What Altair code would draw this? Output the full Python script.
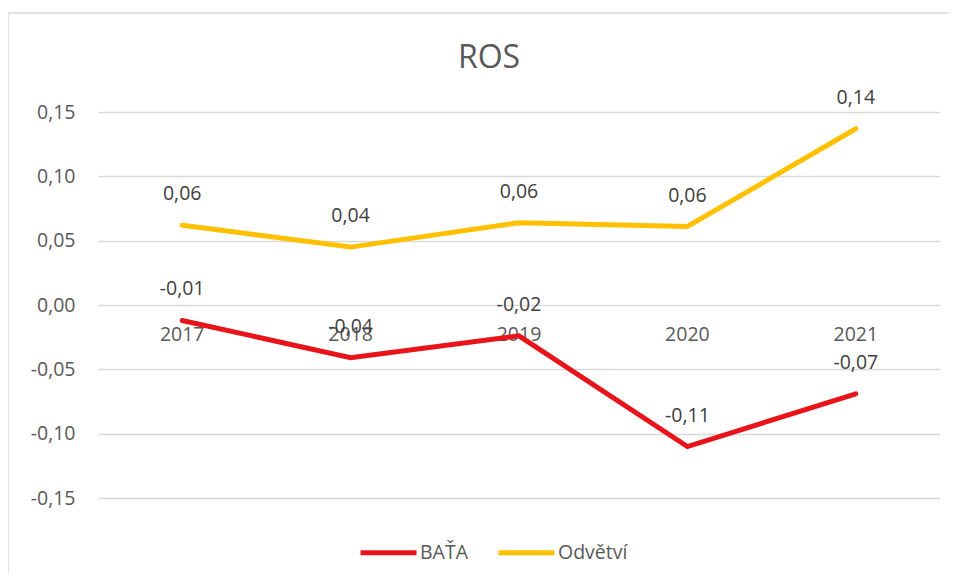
import altair as alt
import pandas as pd

years = ["2017", "2018", "2019", "2020", "2021"]
bata = [-0.012, -0.041, -0.024, -0.110, -0.069]
odvetvi = [0.062, 0.045, 0.064, 0.061, 0.137]
series_names = ["BAŤA", "Odvětví"]
series_colors = ["#E8141A", "#FFC000"]
y_ticks = [-0.15, -0.10, -0.05, 0.0, 0.05, 0.10, 0.15]

rows = []
for name, vals in zip(series_names, [bata, odvetvi]):
    for yr, v in zip(years, vals):
        rows.append({"year": yr, "value": v, "series": name})
df = pd.DataFrame(rows)
years_df = pd.DataFrame({"year": years})

FONT = "Open Sans"
TXT = "#595959"
FS = 19.5

x = alt.X("year:N", sort=years, axis=None,
          scale=alt.Scale(type="point", padding=0.5))
y_scale = alt.Scale(domain=[-0.15, 0.15], nice=False, zero=False)

base = alt.Chart(df)

lines = base.mark_line(strokeWidth=5, strokeCap="round", strokeJoin="miter").encode(
    x=x,
    y=alt.Y("value:Q", scale=y_scale, title=None,
            axis=alt.Axis(values=y_ticks, format=".2f", grid=True, domain=False,
                          ticks=False, labelPadding=23, labelFontSize=FS,
                          labelColor=TXT, labelFont=FONT, gridColor="#D9D9D9",
                          gridWidth=1.5)),
    color=alt.Color("series:N", sort=series_names,
                    scale=alt.Scale(domain=series_names, range=series_colors),
                    legend=alt.Legend(title=None, orient="none", direction="horizontal",
                                      legendX=260, legendY=410, symbolType="stroke",
                                      symbolSize=3136, symbolStrokeWidth=5,
                                      labelFontSize=FS, labelColor=TXT, labelFont=FONT,
                                      labelOffset=1, columnPadding=20, padding=0)),
    detail="series:N",
)

labels = base.mark_text(fontSize=FS, font=FONT, color="#404040", dy=-31,
                        baseline="middle").encode(
    x=x,
    y=alt.Y("value:Q", scale=y_scale),
    text=alt.Text("value:Q", format=".2f"),
)

year_labels = alt.Chart(years_df).mark_text(fontSize=FS, font=FONT, color=TXT, dy=30,
                                            baseline="middle").encode(
    x=x,
    y=alt.datum(0, scale=y_scale),
    text="year:N",
)

frame_df = pd.DataFrame({"k": [0]})
top_border = alt.Chart(frame_df).mark_rule(color="#D9D9D9", strokeWidth=1.5).encode(
    x=alt.value(-90), x2=alt.value(860), y=alt.value(-99))
left_border = alt.Chart(frame_df).mark_rule(color="#D9D9D9", strokeWidth=1.5).encode(
    x=alt.value(-90), y=alt.value(-99), y2=alt.value(480))

chart = alt.layer(top_border, left_border, year_labels, lines, labels).properties(
    width=842, height=386,
    autosize=alt.AutoSizeParams(type="none"),
    padding={"left": 90, "top": 104, "right": 9, "bottom": 75},
    title=alt.TitleParams("ROS", fontSize=32, font=FONT, color=TXT, fontWeight="normal",
                          anchor="middle", dx=-30, offset=-88, baseline="alphabetic"),
).configure(
    locale={"number": {"decimal": ",", "thousands": " ", "grouping": [3],
                       "currency": ["", " Kč"], "minus": "-"}},
).configure_view(stroke=None)

chart.save("out.html", embed_options={"renderer": "svg", "actions": False})
